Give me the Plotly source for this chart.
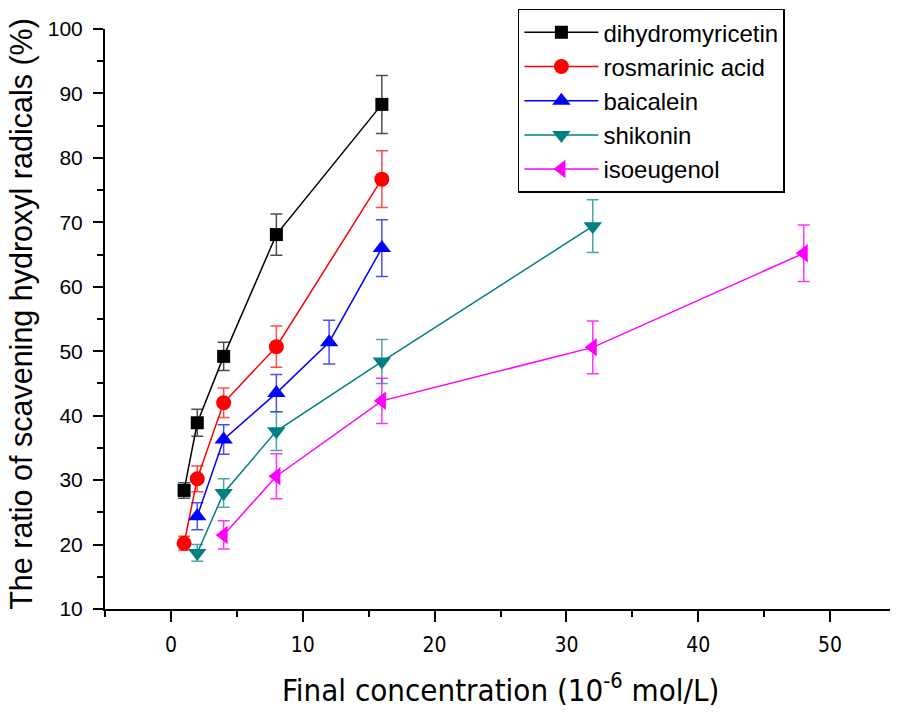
import plotly.graph_objects as go

# ---- data ----
names = ["dihydromyricetin", "rosmarinic acid", "baicalein", "shikonin", "isoeugenol"]

x_dhm = [1, 2, 4, 8, 16]
y_dhm = [28.4, 38.9, 49.2, 68.1, 88.3]
e_dhm = [1.2, 2.1, 2.2, 3.2, 4.5]

x_ra = [1, 2, 4, 8, 16]
y_ra = [20.2, 30.2, 42.0, 50.7, 76.7]
e_ra = [1.1, 2.0, 2.3, 3.2, 4.4]

x_bai = [2, 4, 8, 12, 16]
y_bai = [24.4, 36.3, 43.5, 51.4, 66.0]
e_bai = [2.1, 2.3, 2.9, 3.4, 4.4]

x_shi = [2, 4, 8, 16, 32]
y_shi = [18.7, 28.0, 37.6, 48.4, 69.4]
e_shi = [1.3, 2.2, 3.0, 3.4, 4.1]

x_iso = [4, 8, 16, 32, 48]
y_iso = [21.5, 30.6, 42.3, 50.6, 65.2]
e_iso = [2.2, 3.5, 3.5, 4.1, 4.4]

x_ticks = [0, 10, 20, 30, 40, 50]
y_ticks = [10, 20, 30, 40, 50, 60, 70, 80, 90, 100]

series = [
    (names[0], x_dhm, y_dhm, e_dhm, "#000000", "rgba(0,0,0,0.7)", "square", 13),
    (names[1], x_ra, y_ra, e_ra, "#FF0000", "rgba(255,0,0,0.7)", "circle", 15),
    (names[2], x_bai, y_bai, e_bai, "#0000FF", "rgba(0,0,255,0.7)", "triangle-up", 16),
    (names[3], x_shi, y_shi, e_shi, "#008080", "rgba(0,128,128,0.7)", "triangle-down", 16),
    (names[4], x_iso, y_iso, e_iso, "#FF00FF", "rgba(255,0,255,0.8)", "triangle-left", 16),
]

fig = go.Figure()
for name, xs, ys, es, col, ecol, sym, size in series:
    fig.add_trace(go.Scatter(
        x=xs, y=ys, name=name, mode="lines+markers",
        line=dict(color=col, width=1.5),
        marker=dict(symbol=sym, size=size, color=col),
        error_y=dict(type="data", array=es, visible=True, color=ecol,
                     thickness=1.5, width=6),
    ))

axis_font = "Liberation Sans Narrow, Arial Narrow, DejaVu Sans Condensed, Liberation Sans, sans-serif"

# page body has an 8px margin, so the figure is sized/offset to compensate
fig.update_layout(
    width=890, height=708,
    margin=dict(l=97, r=2, t=21, b=106.5, autoexpand=False),
    paper_bgcolor="white", plot_bgcolor="white",
    font=dict(family="Liberation Sans, Arial, sans-serif", color="black"),
    showlegend=True,
    legend=dict(
        x=0.522, y=1.035, xanchor="left", yanchor="top",
        bordercolor="black", borderwidth=1.5, bgcolor="white",
        font=dict(size=24, family="Liberation Sans, Arial, sans-serif"),
        itemwidth=74,
    ),
    xaxis=dict(
        range=[-5, 55], tickvals=x_ticks, ticktext=[str(v) for v in x_ticks],
        showline=True, linecolor="black", linewidth=2,
        ticks="outside", ticklen=11, tickwidth=2, tickcolor="black",
        minor=dict(ticks="outside", ticklen=6, tickwidth=2, dtick=5, tick0=0, tickcolor="black"),
        showgrid=False, zeroline=False,
        tickfont=dict(size=21, family=axis_font),
        ticklabelstandoff=5,
    ),
    yaxis=dict(
        range=[10, 100], tickvals=y_ticks, ticktext=[str(v) for v in y_ticks],
        showline=True, linecolor="black", linewidth=2,
        ticks="outside", ticklen=10, tickwidth=2, tickcolor="black",
        minor=dict(ticks="outside", ticklen=6, tickwidth=2, dtick=5, tick0=0, tickcolor="black"),
        showgrid=False, zeroline=False,
        tickfont=dict(size=21, family="Liberation Sans, Arial, sans-serif"),
        ticklabelstandoff=6,
    ),
    annotations=[
        dict(text="Final concentration (10<sup>-6</sup> mol/L)", xref="paper", yref="paper",
             x=0.5, y=0, xanchor="center", yanchor="middle", yshift=-79, showarrow=False,
             font=dict(size=31, family=axis_font)),
        dict(text="The ratio of scavening hydroxyl radicals (%)", xref="paper", yref="paper",
             x=0, y=0.509, xanchor="center", yanchor="middle", xshift=-83, textangle=-90,
             showarrow=False, font=dict(size=30.5, family="Liberation Sans, Arial, sans-serif")),
    ],
)

fig.write_html("out.html")
